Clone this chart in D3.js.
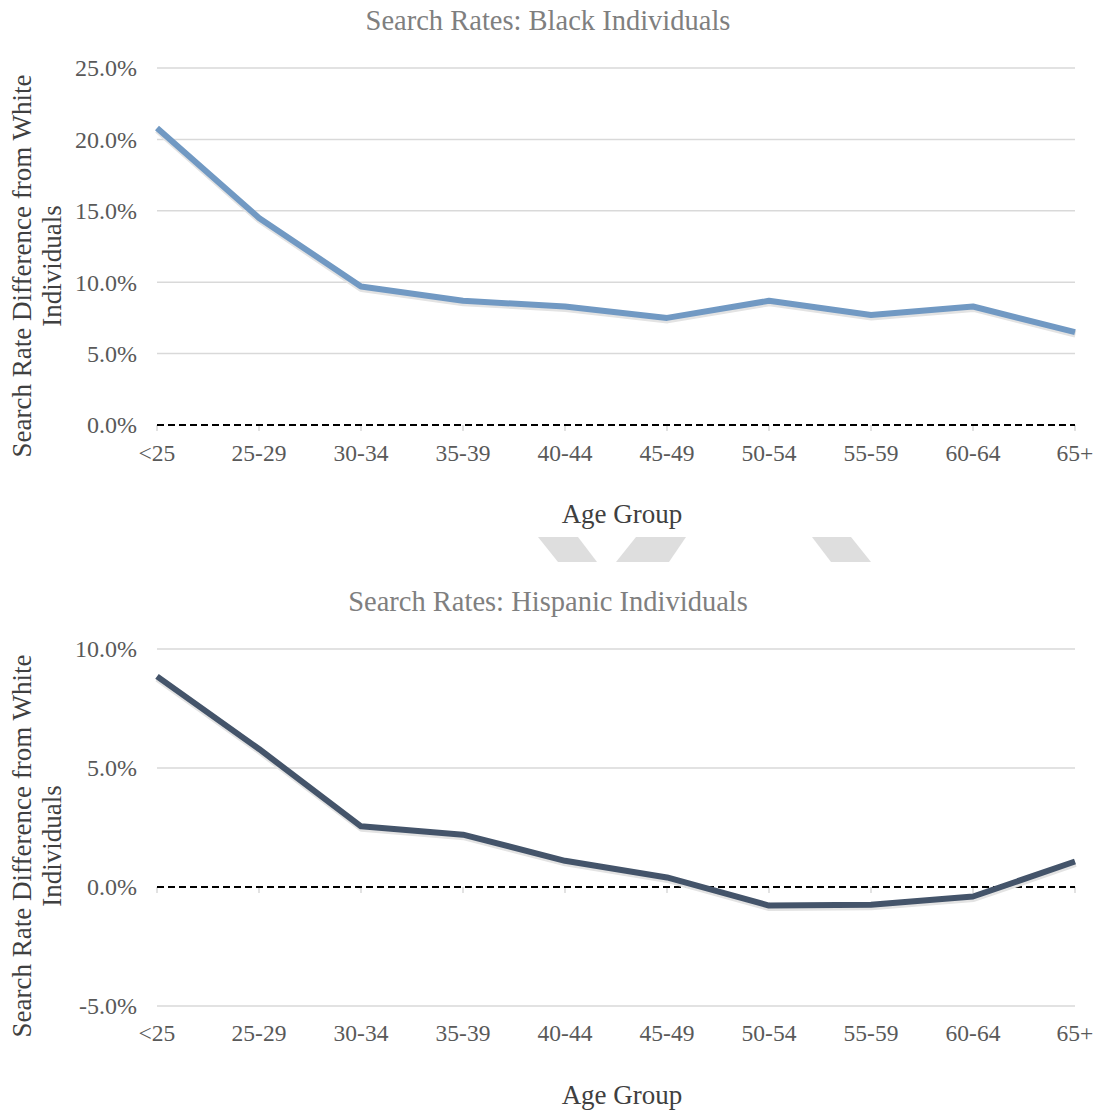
<!DOCTYPE html>
<html>
<head>
<meta charset="utf-8">
<script src="https://cdn.jsdelivr.net/npm/d3@7"></script>
<style>
  body { margin: 0; background: #fff; }
  text { font-family: "Liberation Serif", "Times New Roman", serif; }
</style>
</head>
<body>
<div id="chart"></div>
<script>
const W = 1099, H = 1111;

// data
const ageGroups = ["<25", "25-29", "30-34", "35-39", "40-44", "45-49", "50-54", "55-59", "60-64", "65+"];
const blackDiff = [20.8, 14.5, 9.7, 8.7, 8.3, 7.5, 8.7, 7.7, 8.3, 6.5];
const hispanicDiff = [8.85, 5.8, 2.55, 2.2, 1.1, 0.4, -0.78, -0.75, -0.4, 1.07];
const blackTicks = [0, 5, 10, 15, 20, 25];
const hispanicTicks = [-5, 0, 5, 10];

const svg = d3.select("#chart").append("svg")
  .attr("width", W)
  .attr("height", H);

const x = d3.scalePoint()
  .domain(ageGroups)
  .range([157, 1075]);

function drawPanel(cfg) {
  const y = d3.scaleLinear()
    .domain(cfg.domain)
    .range(cfg.yRange);
  const g = svg.append("g");

  // gridlines
  g.selectAll("line.grid")
    .data(cfg.ticks.filter(t => t !== 0))
    .join("line")
    .attr("class", "grid")
    .attr("x1", x.range()[0])
    .attr("x2", x.range()[1])
    .attr("y1", d => y(d))
    .attr("y2", d => y(d))
    .attr("stroke", "#d9d9d9")
    .attr("stroke-width", 1.5)

  // y tick labels
  g.selectAll("text.ylab")
    .data(cfg.ticks)
    .join("text")
    .attr("class", "ylab")
    .attr("x", 137)
    .attr("y", d => y(d))
    .attr("dy", "0.35em")
    .attr("text-anchor", "end")
    .attr("fill", "#595959")
    .attr("font-size", 24)
    .text(d => d.toFixed(1) + "%")

  // x ticks at zero
  g.selectAll("line.xtick")
    .data(ageGroups)
    .join("line")
    .attr("class", "xtick")
    .attr("x1", d => x(d))
    .attr("x2", d => x(d))
    .attr("y1", y(0))
    .attr("y2", y(0) + 6)
    .attr("stroke", "#d9d9d9")
    .attr("stroke-width", 1.5)

  // zero dashed line
  g.append("line")
    .attr("x1", x.range()[0])
    .attr("x2", x.range()[1])
    .attr("y1", y(0))
    .attr("y2", y(0))
    .attr("stroke", "#000")
    .attr("stroke-width", 2)
    .attr("stroke-dasharray", "7,4")

  // x labels
  g.selectAll("text.xlab")
    .data(ageGroups)
    .join("text")
    .attr("class", "xlab")
    .attr("x", d => x(d))
    .attr("y", cfg.xLabelY)
    .attr("dy", "0.35em")
    .attr("text-anchor", "middle")
    .attr("fill", "#595959")
    .attr("font-size", 23.5)
    .text(d => d)

  const line = d3.line()
    .x((d, i) => x(ageGroups[i]))
    .y(d => y(d))

  // soft shadow
  g.append("path")
    .datum(cfg.values)
    .attr("d", line)
    .attr("transform", "translate(0.5,2)")
    .attr("fill", "none")
    .attr("stroke", "#e3e3e3")
    .attr("stroke-width", 7)
    .attr("stroke-linejoin", "round")

  g.append("path")
    .datum(cfg.values)
    .attr("d", line)
    .attr("fill", "none")
    .attr("stroke", cfg.color)
    .attr("stroke-width", 6)
    .attr("stroke-linejoin", "round")

  // title
  g.append("text")
    .attr("x", 548)
    .attr("y", cfg.titleY)
    .attr("dy", "0.35em")
    .attr("text-anchor", "middle")
    .attr("fill", "#7f7f7f")
    .attr("font-size", 28.5)
    .text(cfg.title)

  // axis titles
  g.append("text")
    .attr("x", 622)
    .attr("y", cfg.xTitleY)
    .attr("dy", "0.35em")
    .attr("text-anchor", "middle")
    .attr("fill", "#404040")
    .attr("font-size", 27)
    .text("Age Group")

  const yt = g.append("text")
    .attr("transform", `translate(22,${cfg.yTitleMid}) rotate(-90)`)
    .attr("text-anchor", "middle")
    .attr("fill", "#404040")
    .attr("font-size", 27)
  yt.append("tspan").attr("x", 0).attr("dy", "0.35em").text("Search Rate Difference from White")
  yt.append("tspan").attr("x", 0).attr("dy", "1.1em").text("Individuals")
}

drawPanel({
  title: "Search Rates: Black Individuals",
  values: blackDiff,
  ticks: blackTicks,
  domain: [0, 25],
  yRange: [425, 68],
  color: "#7199c3",
  titleY: 20,
  xLabelY: 453,
  xTitleY: 514,
  yTitleMid: 266
});

drawPanel({
  title: "Search Rates: Hispanic Individuals",
  values: hispanicDiff,
  ticks: hispanicTicks,
  domain: [-5, 10],
  yRange: [1006, 649],
  color: "#44546a",
  titleY: 601,
  xLabelY: 1033,
  xTitleY: 1095,
  yTitleMid: 846
});

// faint grey fragments between the two panels
const fragments = [
  [[538, 537], [578, 537], [597, 562], [558, 562]],
  [[636, 537], [686, 537], [669, 562], [616, 562]],
  [[812, 537], [851, 537], [871, 562], [831, 562]]
];
svg.selectAll("polygon.frag")
  .data(fragments)
  .join("polygon")
  .attr("class", "frag")
  .attr("points", d => d.map(p => p.join(",")).join(" "))
  .attr("fill", "#dedede")
</script>
</body>
</html>
